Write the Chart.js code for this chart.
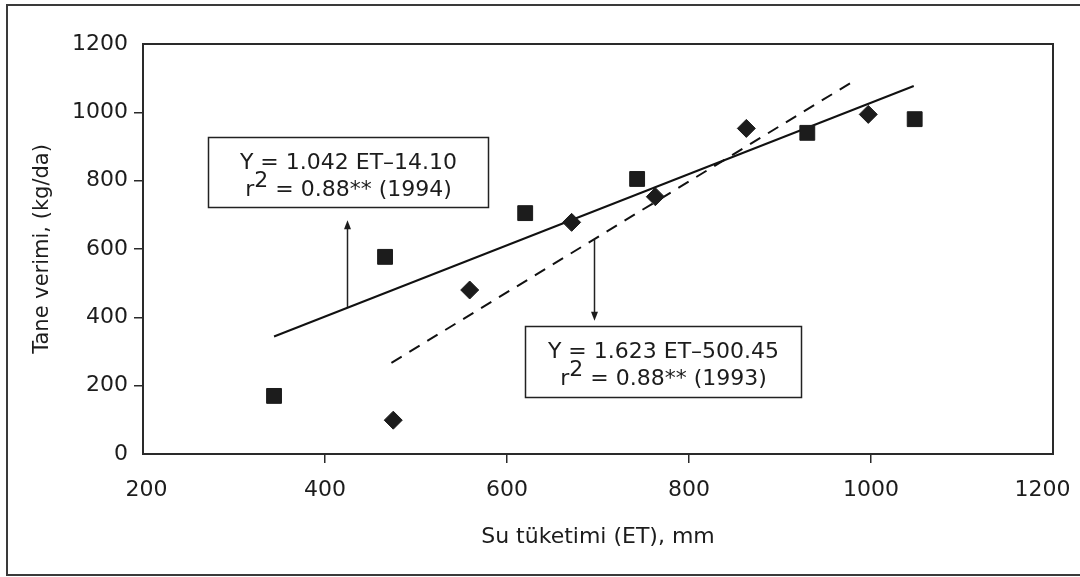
<!DOCTYPE html>
<html>
<head>
<meta charset="utf-8">
<script src="https://cdn.jsdelivr.net/npm/chart.js@4.4.1/dist/chart.umd.min.js"></script>
<style>
  html, body { margin: 0; padding: 0; background: #fff; }
  #wrap { width: 1080px; height: 577px; }
</style>
</head>
<body>
<div id="wrap"><canvas id="chart" width="1080" height="577"></canvas></div>
<script>
// Su tüketimi (ET, mm) ve tane verimi (kg/da) ölçümleri
const et1994 = [344, 466, 620, 743, 930, 1048];
const yield1994 = [170, 577, 705, 805, 940, 980];
const et1993 = [475, 559, 671, 763, 863, 997];
const yield1993 = [99, 480, 678, 753, 953, 994];

// regresyon doğrularının uç noktaları
const fit1994X = [344, 1047];
const fit1994Y = [344, 1077];
const fit1993X = [473, 980];
const fit1993Y = [267, 1090];

const xTicks = [200, 400, 600, 800, 1000, 1200];
const yTicks = [0, 200, 400, 600, 800, 1000, 1200];

const eq1994 = ['Y = 1.042 ET–14.10', ' = 0.88** (1994)'];
const eq1993 = ['Y = 1.623 ET–500.45', ' = 0.88** (1993)'];

const FONT = "'DejaVu Sans', Verdana, sans-serif";
const INK = '#1c1c1c';

function toPoints(xs, ys) {
  return xs.map((x, i) => ({ x: x, y: ys[i] }));
}

// kutu ve ok yerleri eksen birimleriyle
const notes = [
  { lines: eq1994, box: [271, 579, 928, 722], arrow: { x: 424, from: 430, to: 684 } },
  { lines: eq1993, box: [620, 923, 375, 166], arrow: { x: 696, from: 628, to: 390 } }
];

function drawArrow(ctx, x, y0, y1) {
  const dir = y1 < y0 ? -1 : 1;
  ctx.beginPath();
  ctx.moveTo(x, y0);
  ctx.lineTo(x, y1 - dir * 8);
  ctx.stroke();
  ctx.beginPath();
  ctx.moveTo(x, y1);
  ctx.lineTo(x - 3.5, y1 - dir * 9);
  ctx.lineTo(x + 3.5, y1 - dir * 9);
  ctx.closePath();
  ctx.fill();
}

function drawEquation(ctx, lines, l, r, t, b) {
  const cx = (l + r) / 2;
  ctx.font = '22px ' + FONT;
  ctx.textBaseline = 'alphabetic';
  ctx.textAlign = 'left';
  const w1 = ctx.measureText(lines[0]).width;
  ctx.fillText(lines[0], cx - w1 / 2, t + 31);
  // r² satırı: üst simge tam boy, yukarı kaydırılmış
  const wr = ctx.measureText('r').width;
  const w2 = ctx.measureText('2').width;
  const wRest = ctx.measureText(lines[1]).width;
  let x = cx - (wr + w2 + wRest) / 2;
  const base = t + 58;
  ctx.fillText('r', x, base);
  x += wr;
  ctx.fillText('2', x, base - 9);
  x += w2;
  ctx.fillText(lines[1], x, base);
}

const framePlugin = {
  id: 'framePlugin',
  afterDraw(chart) {
    const { ctx, chartArea: a, scales: { x, y } } = chart;
    ctx.save();
    ctx.strokeStyle = '#3a3a3a';
    ctx.lineWidth = 2;
    ctx.strokeRect(7, 5, 1100, 570);
    ctx.strokeStyle = '#2a2a2a';
    ctx.strokeRect(a.left, a.top, a.right - a.left, a.bottom - a.top);

    ctx.fillStyle = INK;
    ctx.strokeStyle = '#222';
    notes.forEach(n => {
      const l = Math.round(x.getPixelForValue(n.box[0])) + 0.5;
      const r = Math.round(x.getPixelForValue(n.box[1])) + 0.5;
      const t = Math.round(y.getPixelForValue(n.box[2])) + 0.5;
      const b = Math.round(y.getPixelForValue(n.box[3])) + 0.5;
      ctx.lineWidth = 1.5;
      ctx.strokeRect(l, t, r - l, b - t);
      const ax = Math.round(x.getPixelForValue(n.arrow.x)) + 0.5;
      drawArrow(ctx, ax, y.getPixelForValue(n.arrow.from), y.getPixelForValue(n.arrow.to));
      drawEquation(ctx, n.lines, l, r, t, b);
    });
    ctx.restore();
  }
};

function hideEdge(lo, hi) {
  return c => (c.tick && (c.tick.value === lo || c.tick.value === hi)) ? 'rgba(0,0,0,0)' : '#2a2a2a';
}

// uçtaki etiketler çerçeveye sığsın diye boşlukla kaydırılır
function xLabel(v) {
  if (v === 200) return ' ' + v;
  if (v === 1200) return v + '   ';
  return String(v);
}

new Chart(document.getElementById('chart'), {
  type: 'scatter',
  data: {
    datasets: [
      {
        label: '1994',
        data: toPoints(et1994, yield1994),
        pointStyle: 'rect',
        pointRadius: 10.5,
        backgroundColor: INK,
        borderColor: INK,
        borderWidth: 1
      },
      {
        label: '1993',
        data: toPoints(et1993, yield1993),
        pointStyle: 'rectRot',
        pointRadius: 9,
        backgroundColor: INK,
        borderColor: INK,
        borderWidth: 1
      },
      {
        label: 'Y = 1.042 ET–14.10',
        data: toPoints(fit1994X, fit1994Y),
        showLine: true,
        pointRadius: 0,
        borderColor: '#111',
        borderWidth: 2
      },
      {
        label: 'Y = 1.623 ET–500.45',
        data: toPoints(fit1993X, fit1993Y),
        showLine: true,
        pointRadius: 0,
        borderColor: '#111',
        borderWidth: 2,
        borderDash: [12, 9]
      }
    ]
  },
  options: {
    responsive: false,
    animation: false,
    devicePixelRatio: 1,
    layout: { padding: { top: 44, right: 27, left: 0, bottom: 0 } },
    plugins: { legend: { display: false }, tooltip: { enabled: false } },
    scales: {
      x: {
        type: 'linear',
        min: 200,
        max: 1200,
        afterBuildTicks: s => { s.ticks = xTicks.map(v => ({ value: v })); },
        afterFit: s => { s.height = 123; s.paddingLeft = 0; s.paddingRight = 0; },
        border: { display: false },
        grid: { drawOnChartArea: false, drawTicks: true, tickLength: 9, lineWidth: 1.5, tickColor: hideEdge(200, 1200) },
        ticks: {
          autoSkip: false,
          maxRotation: 0,
          padding: 14,
          color: INK,
          font: { family: FONT, size: 22 },
          callback: xLabel
        },
        title: {
          display: true,
          text: 'Su tüketimi (ET), mm',
          color: INK,
          font: { family: FONT, size: 22 },
          padding: { top: 0, bottom: 27 }
        }
      },
      y: {
        type: 'linear',
        min: 0,
        max: 1200,
        afterBuildTicks: s => { s.ticks = yTicks.map(v => ({ value: v })); },
        afterFit: s => { s.width = 143; s.paddingTop = 0; s.paddingBottom = 0; },
        border: { display: false },
        grid: { drawOnChartArea: false, drawTicks: true, tickLength: 9, lineWidth: 1.5, tickColor: hideEdge(0, 1200) },
        ticks: {
          autoSkip: false,
          padding: 6,
          color: INK,
          font: { family: FONT, size: 22 },
          callback: v => String(v)
        },
        title: {
          display: true,
          text: 'Tane verimi, (kg/da)',
          color: INK,
          font: { family: FONT, size: 21 },
          padding: { top: 30, bottom: 0 }
        }
      }
    }
  },
  plugins: [framePlugin]
});
</script>
</body>
</html>
